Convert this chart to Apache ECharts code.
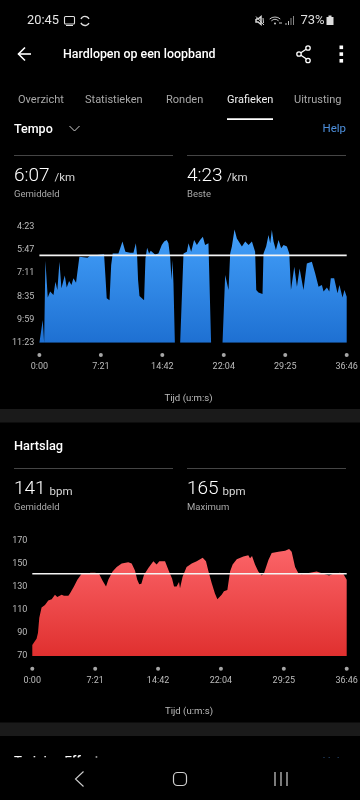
<!DOCTYPE html>
<html><head><meta charset="utf-8">
<style>html,body{margin:0;padding:0;background:#000}#c{width:360px;height:800px}</style>
<script src="https://cdn.jsdelivr.net/npm/echarts@6/dist/echarts.min.js"></script>
</head><body><div id="c"></div>
<script>
const timeTicks = [0,441,882,1323,1764,2205];
const timeLabels = ['0:00','7:21','14:42','22:04','29:25','36:46'];
const paceTicks = [263,347,431,515,599,683];
const paceLabels = ['4:23','5:47','7:11','8:35','9:59','11:23'];
const hrTicks = [70,90,110,130,150,170];
const paceAvg = 367;
const hrAvg = 141;
const paceSeries = [[0,683],[12,683],[24,601],[34,683],[43,386],[53,386],[60,519],[77,498],[101,510],[115,462],[129,492],[144,390],[158,486],[182,440],[196,483],[213,460],[230,474],[244,450],[263,466],[273,426],[287,372],[345,375],[364,368],[464,363],[474,444],[483,522],[503,529],[515,402],[526,360],[567,360],[596,317],[617,354],[651,357],[675,357],[692,323],[701,366],[708,456],[718,514],[751,529],[761,378],[773,339],[787,360],[799,350],[830,364],[854,360],[878,329],[895,317],[914,311],[926,323],[938,372],[948,456],[955,384],[962,468],[972,683],[1010,683],[1034,360],[1041,360],[1058,354],[1070,323],[1089,354],[1110,311],[1130,329],[1153,311],[1173,299],[1189,329],[1213,323],[1232,683],[1314,683],[1333,438],[1357,492],[1369,360],[1381,335],[1400,273],[1417,306],[1453,335],[1477,317],[1501,329],[1525,317],[1548,354],[1556,492],[1572,501],[1601,507],[1608,360],[1627,335],[1644,293],[1656,323],[1668,275],[1680,317],[1697,347],[1716,311],[1735,341],[1752,329],[1776,335],[1793,360],[1805,492],[1829,408],[1848,480],[1867,414],[1895,492],[1919,396],[1955,390],[1979,432],[2003,480],[2027,474],[2039,498],[2063,483],[2080,498],[2091,450],[2115,450],[2139,504],[2153,474],[2175,519],[2189,492],[2205,517]];
const hrSeries = [[0,79.5],[14,82],[30,85],[40,90],[49,103],[65,112],[89,114],[112,118],[136,119],[159,123],[175,121],[206,123],[222,122],[253,122],[264,124],[276,123],[292,130],[316,136],[346,141],[381,141],[409,142],[440,142],[468,141],[493,135],[517,130],[533,136],[563,143],[592,147],[627,150],[673,151],[697,150],[708,151],[720,144],[736,136],[750,132],[765,132.5],[783,140],[814,146],[849,152],[872,149],[891,152],[931,152],[942,153],[959,143],[980,137],[994,130],[1012,130],[1029,134],[1036,128.5],[1054,138.6],[1082,147],[1118,150],[1153,152],[1195,155],[1218,152],[1234,144],[1258,133],[1281,124],[1298,119],[1328,123],[1344,126],[1368,127],[1387,143],[1405,149],[1434,153.6],[1480,156],[1515,157],[1527,154.5],[1541,156.5],[1562,149],[1585,143],[1609,139.5],[1625,141.5],[1656,153],[1679,159],[1726,160],[1773,161],[1801,162.5],[1819,160],[1843,147],[1866,141.5],[1889,140.6],[1948,142],[1994,143],[2041,141],[2081,139.5],[2111,141],[2158,142],[2181,141],[2205,136]];

const F = 'Roboto, sans-serif';
function txt(text,x,y,size,fill,weight,align,z){
  return {type:'text',z:z||10,silent:true,style:{text,x,y,fill,font:(weight||400)+' '+size+'px '+F,textAlign:align||'left',textVerticalAlign:'middle',verticalAlign:'middle'}};
}
function ln(x1,y1,x2,y2,stroke,w,z){return {type:'line',z:z||10,silent:true,shape:{x1,y1,x2,y2},style:{stroke,lineWidth:w||1}};}
function poly(points,stroke,w,z){return {type:'polyline',z:z||10,silent:true,shape:{points},style:{stroke,lineWidth:w||1,fill:null}};}
function rect(x,y,width,height,fill,z,r,stroke,w){return {type:'rect',z:z||1,silent:true,shape:{x,y,width,height,r:r||0},style:{fill:fill,stroke:stroke||null,lineWidth:w||0}};}
function circ(cx,cy,r,fill,stroke,w){return {type:'circle',z:10,silent:true,shape:{cx,cy,r},style:{fill:fill||null,stroke:stroke||null,lineWidth:w||0}};}

const W='#ffffff', G='#a8a8a8', D='#454545';
const graphic = [
  // status bar
  txt('20:45',27,20.5,12.8,'#e6e6e6'),
  rect(64.5,16.5,10,7.5,null,10,1,'#e0e0e0',1.1), ln(66,25.5,73,25.5,'#e0e0e0',1),
  {type:'arc',z:10,silent:true,shape:{cx:85,cy:21,r:4.5,startAngle:0.5,endAngle:2.7},style:{stroke:'#e0e0e0',lineWidth:1.4,fill:null}},
  {type:'arc',z:10,silent:true,shape:{cx:85,cy:21,r:4.5,startAngle:3.6,endAngle:5.8},style:{stroke:'#e0e0e0',lineWidth:1.4,fill:null}},
  poly([[256,19],[258,19],[261,16.5],[261,24.5],[258,22],[256,22],[256,19]],'#d8d8d8',1.5),
  ln(256,16.5,264,25,'#d8d8d8',1), ln(263,18,263.5,23,'#d8d8d8',1),
  {type:'arc',z:10,silent:true,shape:{cx:275,cy:25,r:8,startAngle:-2.3,endAngle:-0.85},style:{stroke:'#c8c8c8',lineWidth:1,fill:null}},
  {type:'arc',z:10,silent:true,shape:{cx:275,cy:25,r:5.5,startAngle:-2.3,endAngle:-0.85},style:{stroke:'#c8c8c8',lineWidth:1,fill:null}},
  circ(275,23.5,1,'#c8c8c8'), ln(279,23,282,23,'#c8c8c8',1),
  ln(286,23,286,25,'#bbb',1), ln(288.5,21,288.5,25,'#bbb',1), ln(291,18,291,25,'#888',1), ln(293.5,16,293.5,25,'#888',1),
  txt('73%',300.5,21,13,'#dedede'),
  rect(326.5,17,7,8,'#dcdcdc',10), rect(328.5,15.5,3,1.5,'#dcdcdc',10),
  // app bar
  ln(18,54,31,54,W,1.6), poly([[25,47.5],[18.5,54],[25,60.5]],W,1.6),
  txt('Hardlopen op een loopband',63,54.5,12.4,W,500),
  ln(299,54,308,48,W,1.3), ln(299,54,308,60,W,1.3),
  circ(299,54,2.2,'#000',W,1.3), circ(308,48,2.2,'#000',W,1.3), circ(308,60.5,2.2,'#000',W,1.3),
  rect(339.5,45.5,3.6,3.6,W,10), rect(339.5,52.3,3.6,3.6,W,10), rect(339.5,59,3.6,3.6,W,10),
  // tabs
  txt('Overzicht',18,100.5,11,G),
  txt('Statistieken',85,100.5,11,G),
  txt('Ronden',166,100.5,11,G),
  txt('Grafieken',227,100.5,11,'#f0f0f0'),
  txt('Uitrusting',294,100.5,11,G),
  rect(227,118.3,46,1.7,W,10),
  // pace header
  txt('Tempo',14,129.5,12.5,W,500),
  poly([[69.5,126],[74.5,131],[79.5,126]],'#cfcfcf',1),
  txt('Help',346,129.5,11.5,'#4d8fdc',400,'right'),
  ln(14,155.5,173,155.5,D,1), ln(187,155.5,346,155.5,D,1),
  txt('6:07',14,176,19,W,300), txt('/km',54.5,178.5,11.5,'#d8d8d8'),
  txt('4:23',187,176,19,W,300), txt('/km',227,178.5,11.5,'#d8d8d8'),
  txt('Gemiddeld',14,194.5,9.5,G), txt('Beste',187,194.5,9.5,G),
  // separators
  rect(0,409,360,13.5,'#1a1a1a',1), rect(0,722.5,360,13.5,'#1a1a1a',1),
  // heart header
  txt('Hartslag',14,446.5,12.8,W,500),
  ln(14,468.5,173,468.5,D,1), ln(187,468.5,346,468.5,D,1),
  txt('141',14,489.5,19,W,300), txt('bpm',49.5,492,11.5,'#d8d8d8'),
  txt('165',187,489.5,19,W,300), txt('bpm',222.5,492,11.5,'#d8d8d8'),
  txt('Gemiddeld',14,508,9.5,G), txt('Maximum',187,508,9.5,G),
  // clipped next section + nav bar
  txt('Training Effect',14,762,13,W,500,'left',5),
  txt('Help',346,762,11.5,'#4d8fdc',400,'right',5),
  rect(0,757.5,360,43,'#000',6),
  poly([[83.5,771.5],[75.5,779],[83.5,786.5]],'#cfcfcf',1.1),
  rect(173.5,772.5,13,13,null,10,4,'#cfcfcf',1.2),
  ln(275,772,275,786,'#cfcfcf',1.2), ln(281,772,281,786,'#cfcfcf',1.2), ln(287,772,287,786,'#cfcfcf',1.2)
];

const labelStyle = {color:'#bcbcbc',fontSize:9,fontFamily:F};
function xAx(idx,pad){return {gridIndex:idx,type:'value',min:0,max:2205,interval:441,
  axisLine:{show:false},axisTick:{show:false},splitLine:{show:false},
  axisLabel:Object.assign({},labelStyle,{margin:20,formatter:v=>timeLabels[timeTicks.indexOf(v)],showMinLabel:true,showMaxLabel:true,hideOverlap:false}),
  name:'Tijd (u:m:s)',nameLocation:'middle',nameGap:51,nameTextStyle:{color:'#bcbcbc',fontSize:9.6,fontFamily:F,padding:[0,pad,0,0]}};}
function yAx(idx,min,max,ticks,fmt,inverse){return {gridIndex:idx,type:'value',min,max,inverse,
  axisLine:{show:false},axisTick:{show:false},splitLine:{show:false},
  axisLabel:Object.assign({},labelStyle,{margin:5,padding:[2,0,0,0],customValues:ticks,formatter:fmt,showMinLabel:true,showMaxLabel:true})};}
function grad(a,b){return {type:'linear',x:0,y:0,x2:0,y2:1,colorStops:[{offset:0,color:a},{offset:1,color:b}]};}
function area(idx,data,a,b,origin){return {type:'line',xAxisIndex:idx,yAxisIndex:idx,data,symbol:'none',showSymbol:false,smooth:false,
  lineStyle:{width:0},areaStyle:{color:grad(a,b),opacity:1,origin},silent:true,z:2};}
function avg(idx,v,w){return {type:'line',xAxisIndex:idx,yAxisIndex:idx,data:[[0,v],[2205,v]],symbol:'none',lineStyle:{color:'#f4f4f4',width:w},silent:true,z:3};}
function dots(idx,base,off){return {type:'scatter',xAxisIndex:idx,yAxisIndex:idx,data:timeTicks.map(t=>[t,base]),symbol:'circle',symbolSize:4,symbolOffset:[0,off],clip:false,itemStyle:{color:'#cfcfcf'},silent:true,z:3};}

const chart = echarts.init(document.getElementById('c'),null,{renderer:'canvas',width:360,height:800});
chart.setOption({
  backgroundColor:'#000',animation:false,tooltip:{show:false},
  graphic:{elements:graphic},
  grid:[{left:39.4,top:226.7,width:307.3,height:116,outerBoundsMode:'none'},{left:32.3,top:540.3,width:314.4,height:115.7,outerBoundsMode:'none'}],
  xAxis:[xAx(0,9),xAx(1,1)],
  yAxis:[yAx(0,263,683,paceTicks,v=>paceLabels[paceTicks.indexOf(v)],true),yAx(1,70,170,hrTicks,v=>String(v),false)],
  series:[
    area(0,paceSeries,'#43a0fa','#1e70d2','end'),avg(0,paceAvg,1.8),dots(0,683,12.3),
    area(1,hrSeries,'#fb6468','#e0302f','start'),avg(1,hrAvg,1.5),dots(1,70,12.7)
  ]
});
</script></body></html>
